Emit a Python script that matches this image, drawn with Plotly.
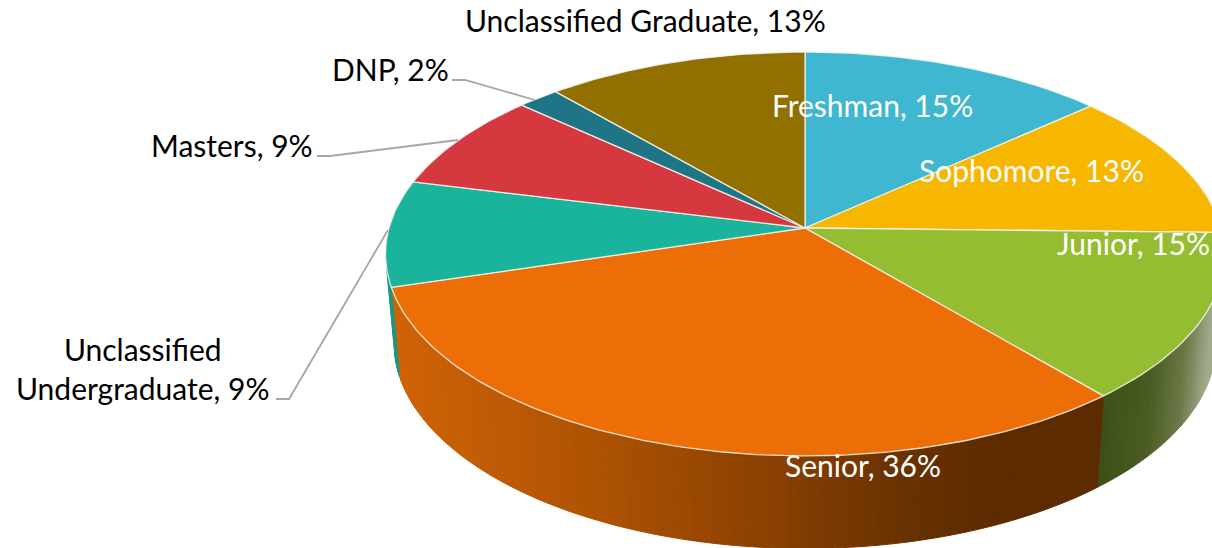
import math
import plotly.graph_objects as go

categories = ["Freshman", "Sophomore", "Junior", "Senior", "Unclassified Undergraduate",
              "Masters", "DNP", "Unclassified Graduate"]
percent_labels = [15, 13, 15, 36, 9, 9, 2, 13]
slice_sizes = [15.0, 13.4, 15.06, 35.34, 9.5, 8.85, 2.05, 12.8]
colors = ["#40B7D0", "#F7B700", "#95BD31", "#ED6D07", "#1AB39C", "#D5393F", "#1F7585", "#927000"]

FONT = "Lato"
CX, CY, RX, RY, PERSP = 805, 228, 416, 198.6, 0.1287


def project(theta):
    s, c = math.sin(theta), math.cos(theta)
    w = 1 + PERSP * c
    return CX + RX * s / w, CY - RY * c / w


def lower(x, y):
    return CX + (x - CX) * 0.98, CY + 88 + 1.02 * (y - CY)


def lerp_stops(stops, x):
    if x <= stops[0][0]:
        return stops[0][1]
    for (x0, c0), (x1, c1) in zip(stops, stops[1:]):
        if x <= x1:
            t = (x - x0) / (x1 - x0)
            return tuple(a + (b - a) * t for a, b in zip(c0, c1))
    return stops[-1][1]


side_shades = {
    "Senior": [(395, (207, 98, 5)), (500, (190, 90, 5)), (600, (172, 82, 3)), (770, (138, 64, 2)),
               (900, (105, 50, 1)), (1000, (92, 43, 0)), (1105, (92, 43, 0))],
    "Junior": [(1100, (60, 78, 24)), (1150, (74, 90, 34)), (1185, (105, 120, 70)), (1212, (160, 170, 140))],
    "Unclassified Undergraduate": [(380, (26, 150, 130)), (400, (26, 150, 130))],
}

total = sum(slice_sizes)
edges = [0.0]
for p in slice_sizes:
    edges.append(edges[-1] + p / total * 2 * math.pi)

fig = go.Figure()

# side walls, derived from the slice angles
for i, cat in enumerate(categories):
    if cat not in side_shades:
        continue
    a0, a1 = edges[i], edges[i + 1]
    if cat == "Unclassified Undergraduate":
        a1 = a0 + math.radians(5)
    n = max(2, int(math.degrees(a1 - a0) / 1.2))
    for k in range(n):
        t0 = a0 + (a1 - a0) * k / n
        t1 = a0 + (a1 - a0) * (k + 1) / n
        xa, ya = project(t0)
        xb, yb = project(t1)
        xc, yc = lower(xb, yb)
        xd, yd = lower(xa, ya)
        r, g, b = lerp_stops(side_shades[cat], (xa + xb) / 2)
        col = f"rgb({r:.0f},{g:.0f},{b:.0f})"
        fig.add_trace(go.Scatter(x=[xa, xb, xc, xd, xa], y=[ya, yb, yc, yd, ya], mode="lines",
                                 fill="toself", fillcolor=col, line=dict(color=col, width=1),
                                 hoverinfo="skip", showlegend=False))

# top faces
for i, cat in enumerate(categories):
    a0, a1 = edges[i], edges[i + 1]
    n = max(4, int(math.degrees(a1 - a0)))
    pts = [project(a0 + (a1 - a0) * k / n) for k in range(n + 1)]
    xs = [CX] + [p[0] for p in pts] + [CX]
    ys = [CY] + [p[1] for p in pts] + [CY]
    fig.add_trace(go.Scatter(x=xs, y=ys, mode="lines", fill="toself", fillcolor=colors[i],
                             line=dict(color="rgba(245,245,240,0.85)", width=1.3),
                             name=cat, hovertemplate=f"{cat}, {percent_labels[i]}%<extra></extra>",
                             showlegend=False))

leader = dict(color="#A6A6A6", width=1.8)
shapes = [
    dict(type="path", path="M452,80 L465,80 L535,100", line=leader),
    dict(type="path", path="M317,156 L330,156 L458,140", line=leader),
    dict(type="path", path="M276,399 L289,399 L388,230", line=leader),
]

labels = [
    ("Freshman, 15%", 872, 105, "white"),
    ("Sophomore, 13%", 1031, 170, "white"),
    ("Junior, 15%", 1133, 243, "white"),
    ("Senior, 36%", 863, 465, "white"),
    ("Unclassified<br>Undergraduate, 9%", 142, 368, "black"),
    ("Masters, 9%", 232, 145, "black"),
    ("DNP, 2%", 390, 69, "black"),
    ("Unclassified Graduate, 13%", 645, 20, "black"),
]
annotations = [dict(x=x, y=y, text=t, showarrow=False, xanchor="center", yanchor="middle",
                    font=dict(family=FONT, size=30, color=c), align="center")
               for t, x, y, c in labels]

fig.update_layout(
    width=1212, height=548, margin=dict(l=0, r=0, t=0, b=0),
    paper_bgcolor="white", plot_bgcolor="white", showlegend=False,
    xaxis=dict(range=[0, 1212], visible=False, fixedrange=True),
    yaxis=dict(range=[548, 0], visible=False, fixedrange=True),
    shapes=shapes, annotations=annotations,
)
fig.write_html("out.html", config={"displayModeBar": False},
               post_script="document.body.style.margin='0';document.body.style.overflow='hidden';")
